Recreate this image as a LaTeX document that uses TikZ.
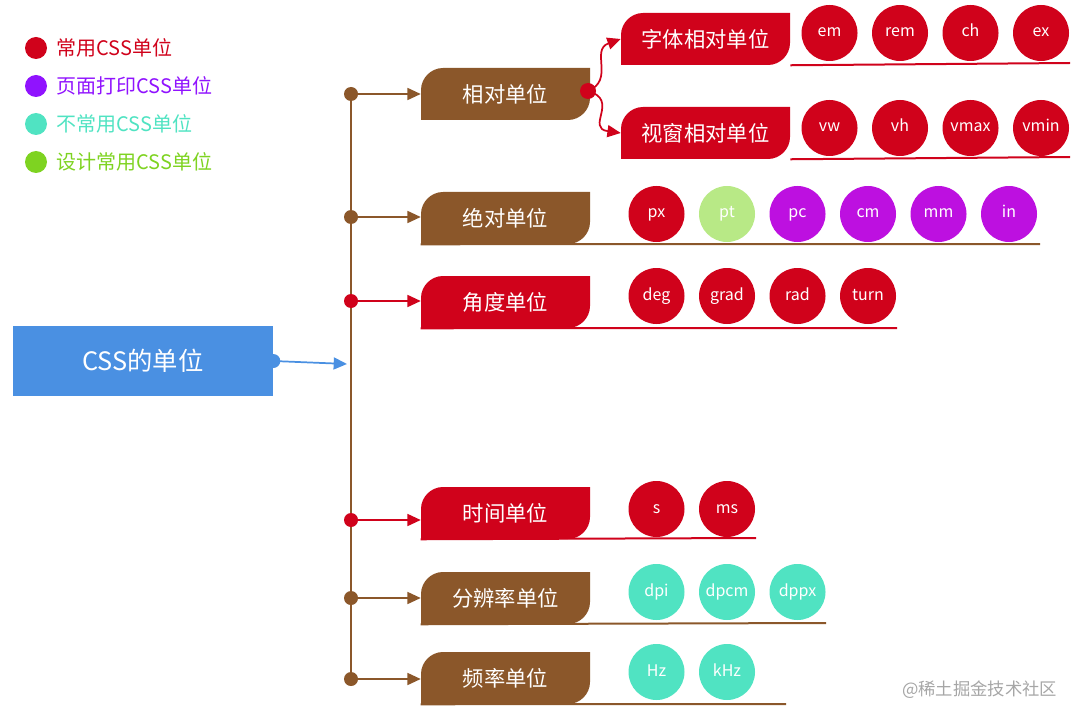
\documentclass[tikz,border=0pt]{standalone}
\usepackage{fontspec}
\setmainfont{Noto Sans CJK SC}
\usetikzlibrary{arrows.meta}

\definecolor{cssred}{HTML}{D0021B}
\definecolor{cssbrown}{HTML}{8B572A}
\definecolor{csspurple}{HTML}{9013FE}
\definecolor{cssviolet}{HTML}{BD10E0}
\definecolor{cssteal}{HTML}{50E3C2}
\definecolor{cssgreen}{HTML}{7ED321}
\definecolor{csslime}{HTML}{B8E986}
\definecolor{cssblue}{HTML}{4A90E2}

\tikzset{
  unit/.style={circle,minimum size=42pt,inner sep=0pt,text=white,text height=8pt,text depth=2pt,font=\fontsize{12}{12}\selectfont},
  bar/.style={line width=1.5pt},
  link/.style={line width=1.3pt,-{Triangle[length=10pt,width=9pt]}},
}

% box with rounded top-left and bottom-right corners: name, left, top, colour, text
\newcommand{\unitbox}[5]{
  \fill[#4] (#2,#3+52) -- (#2,#3+22) .. controls (#2,#3+10) and (#2+10,#3) .. (#2+22,#3) -- (#2+169,#3)
    -- (#2+169,#3+30) .. controls (#2+169,#3+42) and (#2+159,#3+52) .. (#2+147,#3+52) -- cycle;
  \node[minimum width=126.75pt,minimum height=39pt,inner sep=0pt,text=white,
    font=\fontsize{16}{16}\selectfont] (#1) at (#2+84.5,#3+26) {#5};
}

\begin{document}
\begin{tikzpicture}[x=0.75pt,y=-0.75pt]
        \useasboundingbox (0,0) rectangle (1080,720);

        % Legend
        \foreach \c/\t [count=\i] in {cssred/常用CSS单位,csspurple/页面打印CSS单位,cssteal/不常用CSS单位,cssgreen/设计常用CSS单位} {
          \fill[\c] (36,10+38*\i) circle (11);
          \node[anchor=west,text=\c,font=\fontsize{15}{15}\selectfont] (leg\i) at (52,10+38*\i) {\t};
        }

        % Root
        \node[fill=cssblue,minimum width=195pt,minimum height=53pt,text=white,
          font=\fontsize{19}{19}\selectfont] (root) at (143,361) {CSS的单位};
        \fill[cssblue] (root.east) circle (7);
        \coordinate (hub) at (347,364);
        \draw[link,cssblue] (root.east) -- (hub);

        % Trunk
        \draw[bar,cssbrown] (351,94) -- (351,679);

        % Categories
        \unitbox{rel}{421}{68}{cssbrown}{相对单位}
        \unitbox{abs}{421}{192}{cssbrown}{绝对单位}
        \unitbox{ang}{421}{276}{cssred}{角度单位}
        \unitbox{time}{421}{487}{cssred}{时间单位}
        \unitbox{res}{421}{572}{cssbrown}{分辨率单位}
        \unitbox{freq}{421}{652}{cssbrown}{频率单位}
        \unitbox{font}{621}{13}{cssred}{字体相对单位}
        \unitbox{view}{621}{107}{cssred}{视窗相对单位}

        % Branches from the trunk
        \foreach \n/\y/\c in {rel/94/cssbrown,abs/217/cssbrown,ang/301/cssred,time/520/cssred,res/598/cssbrown,freq/679/cssbrown} {
          \coordinate (d\n) at (351,\y);
          \fill[\c] (d\n) circle (7);
          \draw[link,\c] (d\n) -- (\n.west |- d\n);
        }

        % Relative sub branches
        \coordinate (split) at (588,91);
        \fill[cssred] (split) circle (8);
        \draw[link,cssred] (split) .. controls (615,80) and (590,50) .. (font.west);
        \draw[link,cssred] (split) .. controls (620,100) and (585,128) .. (view.west);

        % Underlines
        \draw[bar,cssred] (font.south east) -- (1070,63);
        \draw[bar,cssred] (view.south east) -- (1070,157);
        \draw[bar,cssbrown] (abs.south west) -- (1040,244);
        \draw[bar,cssred] (ang.south west) -- (897,328);
        \draw[bar,cssred] (time.south west) -- (756,538);
        \draw[bar,cssbrown] (res.south west) -- (826,623);
        \draw[bar,cssbrown] (freq.south west) -- (786,704);

        % Units
        \foreach \t/\c [count=\i] in {em/cssred,rem/cssred,ch/cssred,ex/cssred}
          \node[unit,fill=\c] (u-font-\i) at (759+70.5*\i,33) {\t};
        \foreach \t/\c [count=\i] in {vw/cssred,vh/cssred,vmax/cssred,vmin/cssred}
          \node[unit,fill=\c] (u-view-\i) at (759+70.5*\i,128) {\t};
        \foreach \t/\c [count=\i] in {px/cssred,pt/csslime,pc/cssviolet,cm/cssviolet,mm/cssviolet,in/cssviolet}
          \node[unit,fill=\c] (u-abs-\i) at (586+70.5*\i,214) {\t};
        \foreach \t/\c [count=\i] in {deg/cssred,grad/cssred,rad/cssred,turn/cssred}
          \node[unit,fill=\c] (u-ang-\i) at (586+70.5*\i,296) {\t};
        \foreach \t/\c [count=\i] in {s/cssred,ms/cssred}
          \node[unit,fill=\c] (u-time-\i) at (586+70.5*\i,509) {\t};
        \foreach \t/\c [count=\i] in {dpi/cssteal,dpcm/cssteal,dppx/cssteal}
          \node[unit,fill=\c] (u-res-\i) at (586+70.5*\i,592) {\t};
        \foreach \t/\c [count=\i] in {Hz/cssteal,kHz/cssteal}
          \node[unit,fill=\c] (u-freq-\i) at (586+70.5*\i,672) {\t};

        % Watermark
        \node[anchor=east,text=gray!70,font=\fontsize{13}{13}\selectfont] (mark) at (1062,690) {@稀土掘金技术社区};
      \end{tikzpicture}
\end{document}
